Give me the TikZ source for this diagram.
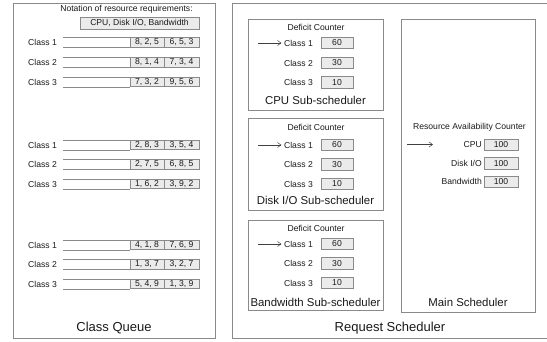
\documentclass[tikz,border=0pt]{standalone}
\usepackage{fontspec}
\setmainfont{Liberation Sans}
\usetikzlibrary{arrows.meta}
\definecolor{linegray}{HTML}{8A8A8A}
\definecolor{cellgray}{HTML}{EBEBEB}
\definecolor{txt}{HTML}{1A1A1A}
\newcommand\fsm{\fontsize{8.6}{10}\selectfont}
\newcommand\fmid{\fontsize{11.4}{13}\selectfont}
\newcommand\fbig{\fontsize{13}{15}\selectfont}
% class queue row: name, y, label, a, b
\newcommand\qrow[5]{%
  \node[lbl, anchor=west] (#1l) at (27,#2) {#3};
  \node[cell, minimum width=34pt] (#1a) at (147,#2) {#4};
  \node[cell, minimum width=35pt] (#1b) at (181.5,#2) {#5};
  \draw[bar] (#1a.north west) -- ++(-67,0);
  \draw[bar] (#1a.south west) -- ++(-67,0);}
% sub-scheduler row: name, y, label, value
\newcommand\srow[4]{%
  \node[lbl, anchor=east] (#1l) at (314,#2) {#3};
  \node[vbox] (#1v) at (337,#2) {#4};}
\begin{document}
\begin{tikzpicture}[x=1pt,y=-1pt,
  frame/.style={draw=linegray, line width=0.8pt, inner sep=0pt, anchor=north west},
  cell/.style={draw=linegray, fill=cellgray, line width=0.7pt, minimum height=9.5pt, inner sep=0pt, font=\fsm, text=txt},
  vbox/.style={draw=linegray, fill=cellgray, line width=0.7pt, minimum width=32pt, minimum height=11.5pt, inner sep=0pt, font=\fsm, text=txt},
  bar/.style={draw=linegray, line width=0.7pt},
  lbl/.style={font=\fsm, text=txt, inner sep=1pt},
  mid/.style={font=\fmid, text=txt, inner sep=1pt},
  big/.style={font=\fbig, text=txt, inner sep=1pt},
  arr/.style={draw=black!75, line width=0.5pt, -{Straight Barb[length=3.5pt,width=5pt]}}]
\useasboundingbox (0,0) rectangle (547,341);
\fill[white] (0,0) rectangle (547,341);

% ---------- Class Queue ----------
\node[frame, minimum width=202pt, minimum height=335pt] (cq) at (13,3) {};
\node[lbl] (nota) at (126.5,9.5) {Notation of resource requirements:};
\node[cell, minimum width=119pt, minimum height=12pt] (notb) at (139.5,23) {CPU, Disk I/O, Bandwidth};

\qrow{ga}{42.5}{Class 1}{8, 2, 5}{6, 5, 3}
\qrow{gb}{62.5}{Class 2}{8, 1, 4}{7, 3, 4}
\qrow{gc}{82}{Class 3}{7, 3, 2}{9, 5, 6}

\qrow{ha}{145}{Class 1}{2, 8, 3}{3, 5, 4}
\qrow{hb}{164.5}{Class 2}{2, 7, 5}{6, 8, 5}
\qrow{hc}{184}{Class 3}{1, 6, 2}{3, 9, 2}

\qrow{ia}{245}{Class 1}{4, 1, 8}{7, 6, 9}
\qrow{ib}{264.5}{Class 2}{1, 3, 7}{3, 2, 7}
\qrow{ic}{284}{Class 3}{5, 4, 9}{1, 3, 9}

\node[big] (cqt) at (114,328) {Class Queue};

% ---------- Request Scheduler ----------
\node[frame, minimum width=316pt, minimum height=335pt] (rs) at (232,3) {};
\node[big] (rst) at (390,328) {Request Scheduler};

% CPU sub-scheduler
\node[frame, minimum width=135pt, minimum height=91pt] (cpu) at (248,19) {};
\node[lbl] (cpud) at (316,27) {Deficit Counter};
\srow{ca}{43}{Class 1}{60}
\srow{cb}{63}{Class 2}{30}
\srow{cc}{82.5}{Class 3}{10}
\node[mid] (cput) at (315.5,100) {CPU Sub-scheduler};
\coordinate (cin) at (258,43);
\draw[arr, shorten >=1.5pt] (cin) -- (cal.west);

% Disk sub-scheduler
\node[frame, minimum width=135pt, minimum height=92pt] (dsk) at (248,118) {};
\node[lbl] (dskd) at (316,127) {Deficit Counter};
\srow{da}{145}{Class 1}{60}
\srow{db}{164.5}{Class 2}{30}
\srow{dc}{184}{Class 3}{10}
\node[mid] (dskt) at (315.5,200) {Disk I/O Sub-scheduler};
\coordinate (din) at (258,145);
\draw[arr, shorten >=1.5pt] (din) -- (dal.west);

% Bandwidth sub-scheduler
\node[frame, minimum width=135pt, minimum height=90pt] (bw) at (248,220) {};
\node[lbl] (bwd) at (316,228) {Deficit Counter};
\srow{ba}{244}{Class 1}{60}
\srow{bb}{263.5}{Class 2}{30}
\srow{bc}{283}{Class 3}{10}
\node[mid] (bwt) at (315.5,302) {Bandwidth Sub-scheduler};
\coordinate (bin) at (258,244);
\draw[arr, shorten >=1.5pt] (bin) -- (bal.west);

% Main scheduler
\node[frame, minimum width=134pt, minimum height=293pt] (ms) at (401,19) {};
\node[lbl] (rac) at (469.5,127) {Resource Availability Counter};
\node[lbl, anchor=east] (mcl) at (483,145) {CPU};
\node[vbox, minimum width=34pt] (mcv) at (501,145) {100};
\node[lbl, anchor=east] (mdl) at (483,163.3) {Disk I/O};
\node[vbox, minimum width=34pt] (mdv) at (501,163.3) {100};
\node[lbl, anchor=east] (mbl) at (483,181.7) {Bandwidth};
\node[vbox, minimum width=34pt] (mbv) at (501,181.7) {100};
\node[mid] (mst) at (468,302) {Main Scheduler};
\coordinate (min) at (407,144.5);
\coordinate (mout) at (433,144.5);
\draw[arr] (min) -- (mout);
\end{tikzpicture}
\end{document}
